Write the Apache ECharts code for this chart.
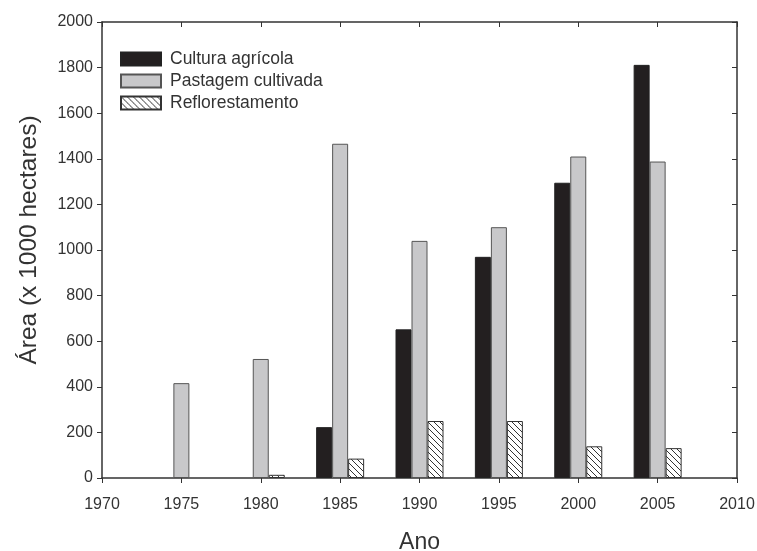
<!DOCTYPE html>
<html>
<head>
<meta charset="utf-8">
<script src="https://cdn.jsdelivr.net/npm/echarts@6/dist/echarts.min.js"></script>
<style>
  html, body { margin: 0; padding: 0; background: #fff; }
  #main { width: 757px; height: 551px; }
</style>
</head>
<body>
<div id="main"></div>
<script>
var years = [1975, 1980, 1985, 1990, 1995, 2000, 2005];
var cultura = [null, null, 223, 652, 970, 1295, 1812];
var pastagem = [416, 522, 1466, 1040, 1100, 1410, 1388];
var reflorestamento = [null, 14, 85, 250, 250, 139, 131];
var seriesNames = ['Cultura agrícola', 'Pastagem cultivada', 'Reflorestamento'];

function pairs(vals)
{
    var out = [];
    for (var i = 0; i < years.length; i++) {
        if (vals[i] !== null) out.push([years[i], vals[i]]);
    }
    return out;
}

// diagonal hatch tile, lines going "\"
function hatchPattern()
{
    var c = document.createElement('canvas');
    c.width = 6; c.height = 6;
    var ctx = c.getContext('2d');
    ctx.fillStyle = '#fff';
    ctx.fillRect(0, 0, 6, 6);
    ctx.strokeStyle = '#333';
    ctx.lineWidth = 1;
    ctx.beginPath();
    ctx.moveTo(-1, -1); ctx.lineTo(7, 7);
    ctx.moveTo(-1, 5); ctx.lineTo(1, 7);
    ctx.moveTo(5, -1); ctx.lineTo(7, 1);
    ctx.stroke();
    return c;
}

var textColor = '#333';
var lineColor = '#333';
var font = 'Liberation Sans, Arial, sans-serif';
var plain = function (v) { return String(v); };

var myChart = echarts.init(document.getElementById('main'));

var option = {
    animation: false,
    backgroundColor: '#fff',
    textStyle: { fontFamily: font },
    grid: { left: 102, right: 20, top: 22, bottom: 73, containLabel: false, outerBoundsMode: 'none' },
    legend: {
        left: 120,
        top: 50,
        padding: 0,
        orient: 'vertical',
        itemWidth: 40,
        itemHeight: 13,
        itemGap: 4,
        icon: 'rect',
        data: seriesNames,
        textStyle: { fontSize: 17.5, color: textColor, fontFamily: font, padding: [0, 0, 0, 4] }
    },
    xAxis: [
        {
            type: 'value',
            min: 1970,
            max: 2010,
            interval: 5,
            name: 'Ano',
            nameLocation: 'middle',
            nameGap: 53,
            nameTextStyle: { fontSize: 23, color: textColor },
            axisLine: { onZero: false, lineStyle: { color: lineColor, width: 1.5 } },
            axisTick: { inside: false, length: 5, lineStyle: { color: lineColor } },
            axisLabel: { fontSize: 16, color: textColor, margin: 19, formatter: plain },
            splitLine: { show: false }
        },
        {
            type: 'value',
            position: 'top',
            min: 1970,
            max: 2010,
            interval: 5,
            axisLine: { onZero: false, lineStyle: { color: lineColor, width: 1.5 } },
            axisTick: { inside: true, length: 5, lineStyle: { color: lineColor } },
            axisLabel: { show: false },
            splitLine: { show: false }
        }
    ],
    yAxis: [
        {
            type: 'value',
            min: 0,
            max: 2000,
            interval: 200,
            name: 'Área (x 1000 hectares)',
            nameLocation: 'middle',
            nameGap: 60,
            nameTextStyle: { fontSize: 24.5, color: textColor, padding: [0, 0, 0, 20] },
            axisLine: { show: true, onZero: false, lineStyle: { color: lineColor, width: 1.5 } },
            axisTick: { show: true, inside: false, length: 5, lineStyle: { color: lineColor } },
            axisLabel: { fontSize: 16, color: textColor, margin: 9, formatter: plain },
            splitLine: { show: false }
        },
        {
            type: 'value',
            position: 'right',
            min: 0,
            max: 2000,
            interval: 200,
            axisLine: { show: true, onZero: false, lineStyle: { color: lineColor, width: 1.5 } },
            axisTick: { show: true, inside: true, length: 5, lineStyle: { color: lineColor } },
            axisLabel: { show: false },
            splitLine: { show: false }
        }
    ],
    series: [
        {
            name: seriesNames[0],
            type: 'bar',
            barWidth: 16,
            barGap: '0%',
            itemStyle: { color: '#231f20', borderColor: '#222', borderWidth: 1 },
            data: pairs(cultura)
        },
        {
            name: seriesNames[1],
            type: 'bar',
            barWidth: 16,
            barGap: '0%',
            itemStyle: { color: '#c8c8ca', borderColor: '#555', borderWidth: 1 },
            data: pairs(pastagem)
        },
        {
            name: seriesNames[2],
            type: 'bar',
            barWidth: 16,
            barGap: '0%',
            itemStyle: { color: { image: hatchPattern(), repeat: 'repeat' }, borderColor: '#333', borderWidth: 1 },
            data: pairs(reflorestamento)
        }
    ]
};

myChart.setOption(option);
</script>
</body>
</html>
